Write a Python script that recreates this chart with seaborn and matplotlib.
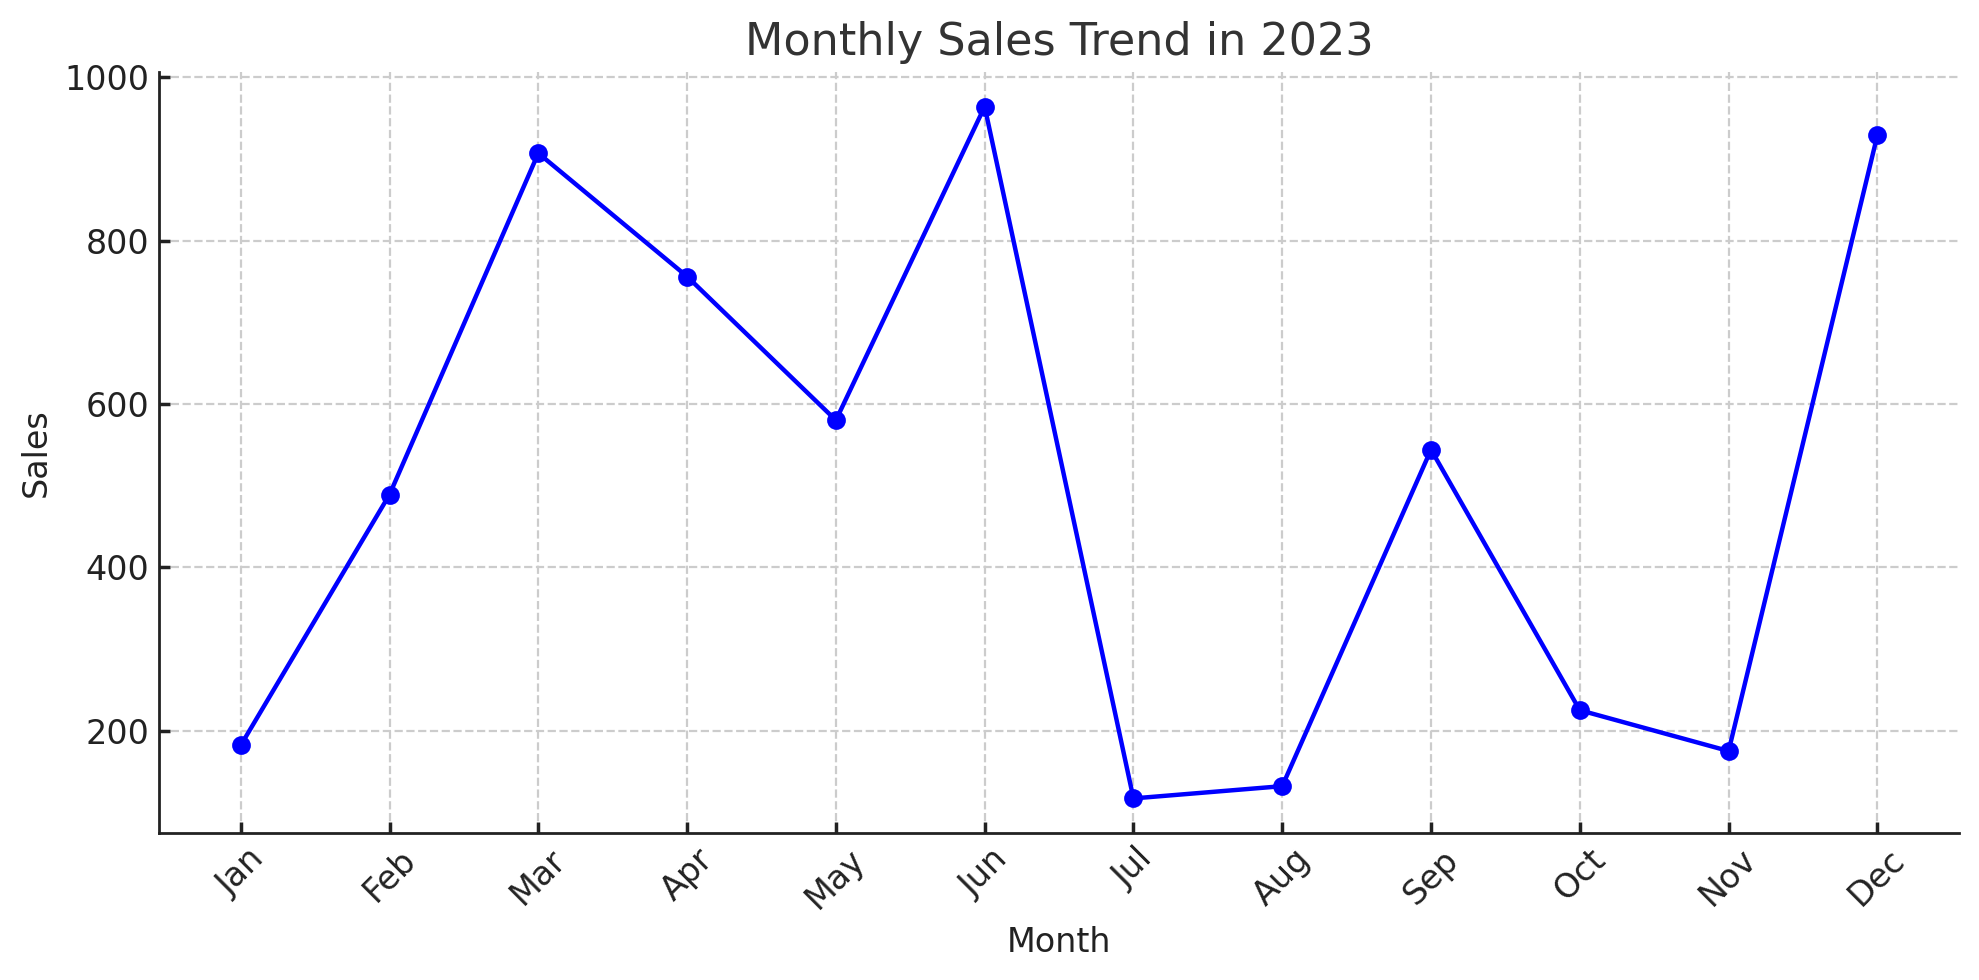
import matplotlib
matplotlib.use('Agg')
import matplotlib.pyplot as plt
import seaborn as sns
import pandas as pd

months = ['Jan', 'Feb', 'Mar', 'Apr', 'May', 'Jun',
          'Jul', 'Aug', 'Sep', 'Oct', 'Nov', 'Dec']
sales = [182, 489, 907, 756, 580, 964, 117, 132, 544, 225, 175, 929]

df = pd.DataFrame({'Month': months, 'Sales': sales})

sns.set_theme(style="whitegrid", rc={
    'grid.linestyle': '--',
    'grid.color': '#cccccc',
    'grid.linewidth': 0.8,
    'axes.edgecolor': '#222222',
    'axes.linewidth': 1.0,
    'xtick.direction': 'in',
    'ytick.direction': 'in',
    'xtick.bottom': True,
    'ytick.left': True,
    'xtick.color': '#222222',
    'ytick.color': '#222222',
    'text.color': '#333333',
    'axes.labelcolor': '#222222',
})
plt.rcParams['font.family'] = ['DejaVu Sans']

fig, ax = plt.subplots(figsize=(9.895, 4.9), dpi=200)
sns.lineplot(data=df, x='Month', y='Sales', marker='o', color='blue',
             linewidth=1.6, markersize=6, markeredgecolor='blue', ax=ax)

ax.set_title('Monthly Sales Trend in 2023', fontsize=16)
ax.set_xlabel('Month', fontsize=12)
ax.set_ylabel('Sales', fontsize=12)
ax.tick_params(axis='both', labelsize=12, length=4)
plt.xticks(rotation=45)
ax.grid(True, linestyle='--', color='#cccccc', linewidth=0.8)
sns.despine(ax=ax)

fig.subplots_adjust(left=0.0803, right=0.990, top=0.9265, bottom=0.15)
fig.savefig('out.png', dpi=200)
